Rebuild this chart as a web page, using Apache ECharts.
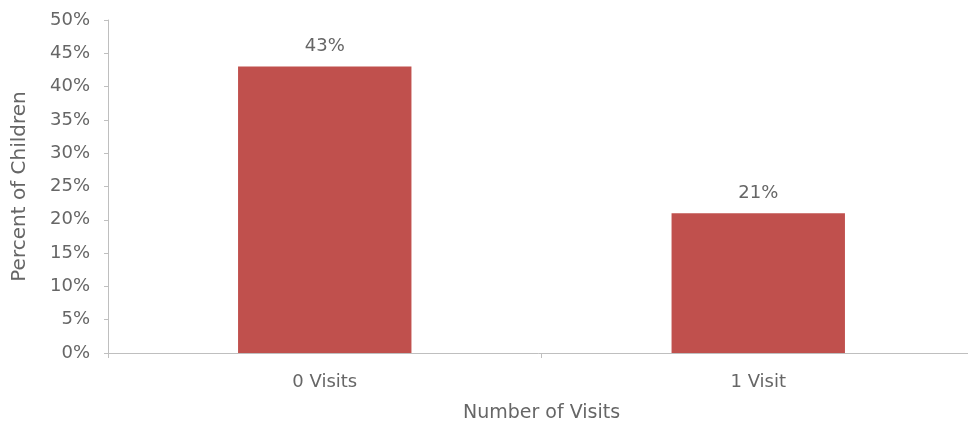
<!DOCTYPE html>
<html>
<head>
<meta charset="utf-8">
<script src="https://cdn.jsdelivr.net/npm/echarts@6/dist/echarts.min.js"></script>
<style>
  html, body { margin: 0; padding: 0; background: #fff; }
  #chart { width: 968px; height: 428px; }
</style>
</head>
<body>
<div id="chart"></div>
<script>
// data
const categories = ["0 Visits", "1 Visit"]
const percentValues = [43, 21]
const yTicks = [0, 5, 10, 15, 20, 25, 30, 35, 40, 45, 50]

const textColor = "#666666"
const axisColor = "#bfbfbf"
const fontFamily = "'DejaVu Sans', Verdana, sans-serif"

const chart = echarts.init(document.getElementById("chart"))

const option = {
  animation: false,
  textStyle: { fontFamily: fontFamily },
  grid: {
    left: 108,
    width: 867, // axis runs a bit past the right edge in the original
    top: 20,
    bottom: 75,
    outerBoundsMode: "none",
  },
  xAxis: {
    type: "category",
    data: categories,
    name: "Number of Visits",
    nameLocation: "middle",
    nameGap: 51,
    nameTextStyle: { color: textColor, fontSize: 19, fontFamily: fontFamily },
    axisLine: { show: true, lineStyle: { color: axisColor, width: 1 } },
    axisTick: { show: true, length: 5, lineStyle: { color: axisColor } },
    axisLabel: { color: textColor, fontSize: 18, margin: 20, fontFamily: fontFamily },
  },
  yAxis: {
    type: "value",
    min: yTicks[0],
    max: yTicks[yTicks.length - 1],
    interval: 5,
    name: "Percent of Children",
    nameLocation: "middle",
    nameGap: 78,
    nameTextStyle: { color: textColor, fontSize: 20, fontFamily: fontFamily },
    axisLine: { show: true, lineStyle: { color: axisColor, width: 1 } },
    axisTick: { show: true, length: 4, lineStyle: { color: axisColor } },
    axisLabel: {
      color: textColor,
      fontSize: 18,
      margin: 18,
      fontFamily: fontFamily,
      formatter: (v) => v + "%",
    },
    splitLine: { show: false },
  },
  series: [
    {
      type: "bar",
      data: percentValues,
      barWidth: "40%",
      itemStyle: { color: "#c0504d" },
      label: {
        show: true,
        position: "top",
        distance: 11,
        color: textColor,
        fontSize: 18,
        fontFamily: fontFamily,
        formatter: (p) => p.value + "%",
      },
    },
  ],
}

chart.setOption(option)
</script>
</body>
</html>
